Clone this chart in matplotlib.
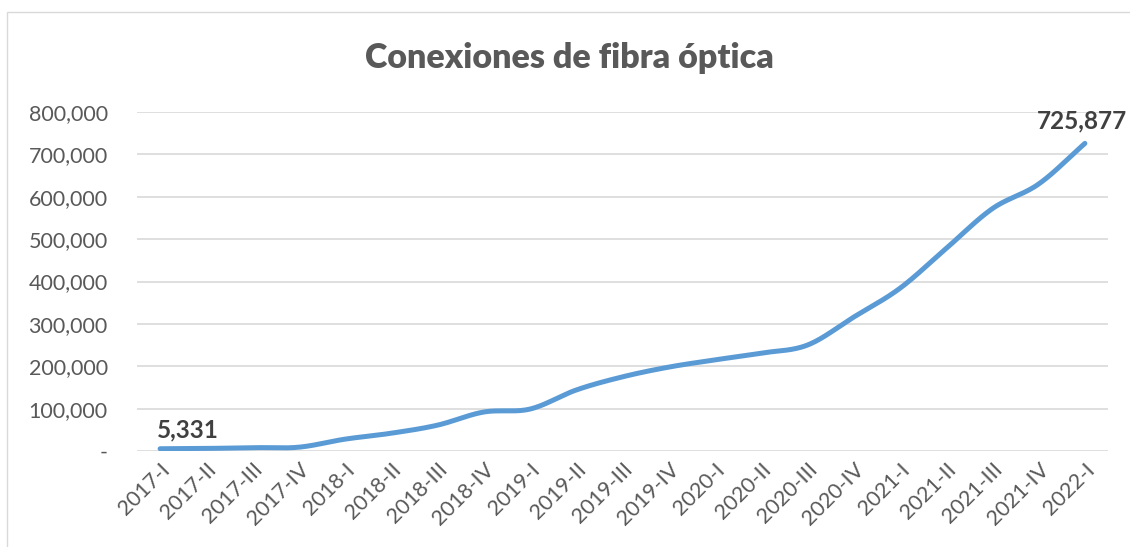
import numpy as np
import matplotlib
matplotlib.use("Agg")
import matplotlib.pyplot as plt
from matplotlib.ticker import FuncFormatter
from matplotlib.patches import Rectangle

periods = ["2017-I", "2017-II", "2017-III", "2017-IV",
           "2018-I", "2018-II", "2018-III", "2018-IV",
           "2019-I", "2019-II", "2019-III", "2019-IV",
           "2020-I", "2020-II", "2020-III", "2020-IV",
           "2021-I", "2021-II", "2021-III", "2021-IV",
           "2022-I"]
connections = [5331, 6000, 8000, 9000,
               28000, 42000, 61000, 92000,
               99000, 144000, 175000, 198000,
               215000, 231000, 250000, 316000,
               384000, 478000, 572000, 630000,
               725877]
y_ticks = [0, 100000, 200000, 300000, 400000, 500000, 600000, 700000, 800000]

plt.rcParams['font.family'] = ['Lato', 'DejaVu Sans']

fig = plt.figure(figsize=(11.3, 5.47), dpi=100)
ax = fig.add_axes([137/1130, 1 - 451/547, (1108 - 137)/1130, (451 - 112)/547])

# smooth curve (Catmull-Rom through data points, like Excel smoothed line)
x = np.arange(len(connections), dtype=float)
y = np.array(connections, dtype=float)
px = np.concatenate([[2*x[0]-x[1]], x, [2*x[-1]-x[-2]]])
py = np.concatenate([[2*y[0]-y[1]], y, [2*y[-1]-y[-2]]])
xs, ys = [], []
t = np.linspace(0, 1, 30)
for i in range(1, len(px) - 2):
    p0, p1, p2, p3 = py[i-1], py[i], py[i+1], py[i+2]
    q0, q1, q2, q3 = px[i-1], px[i], px[i+1], px[i+2]
    cy = 0.5*((2*p1) + (-p0+p2)*t + (2*p0-5*p1+4*p2-p3)*t**2 + (-p0+3*p1-3*p2+p3)*t**3)
    cx = 0.5*((2*q1) + (-q0+q2)*t + (2*q0-5*q1+4*q2-q3)*t**2 + (-q0+3*q1-3*q2+q3)*t**3)
    xs.extend(cx); ys.extend(cy)
ax.plot(xs, ys, color="#5B9BD5", lw=3.6, solid_capstyle='round', zorder=3)

ax.set_xlim(-0.5, len(periods) - 0.5)
ax.set_ylim(0, 800000)
ax.set_yticks(y_ticks)
ax.yaxis.set_major_formatter(FuncFormatter(lambda v, p: "-" if v == 0 else f"{int(v):,}"))
ax.set_xticks(x)
ax.set_xticklabels(periods, rotation=45, ha='right', rotation_mode='anchor')
ax.tick_params(axis='both', length=0, labelsize=15.5, colors="#595959")
ax.tick_params(axis='y', pad=21)
ax.tick_params(axis='x', pad=6)
ax.grid(axis='y', color="#D9D9D9", lw=1.2)
ax.set_axisbelow(True)
for s in ax.spines.values():
    s.set_visible(False)

ax.annotate(f"{connections[0]:,}", (x[0], y[0]), xytext=(-2, 5), textcoords='offset points',
            ha='left', va='bottom', fontsize=17.5, fontweight='bold', color="#404040")
ax.annotate(f"{connections[-1]:,}", (x[-1], y[-1]), xytext=(-2, 8), textcoords='offset points',
            ha='center', va='bottom', fontsize=17.5, fontweight='bold', color="#404040",
            annotation_clip=False, zorder=5)

fig.text(0.5 + 4/1130, 1 - 58/547, "Conexiones de fibra óptica", ha='center', va='center',
         fontsize=24.5, fontweight='heavy', color="#595959")

# chart-area frame (left and top visible; right/bottom run off the image)
fig.patches.append(Rectangle((7/1130, -0.01), 1.02, 1 - 12/547 + 0.01,
                             transform=fig.transFigure, fill=False, edgecolor="#D9D9D9", lw=1))

fig.savefig("out.png", dpi=100)
